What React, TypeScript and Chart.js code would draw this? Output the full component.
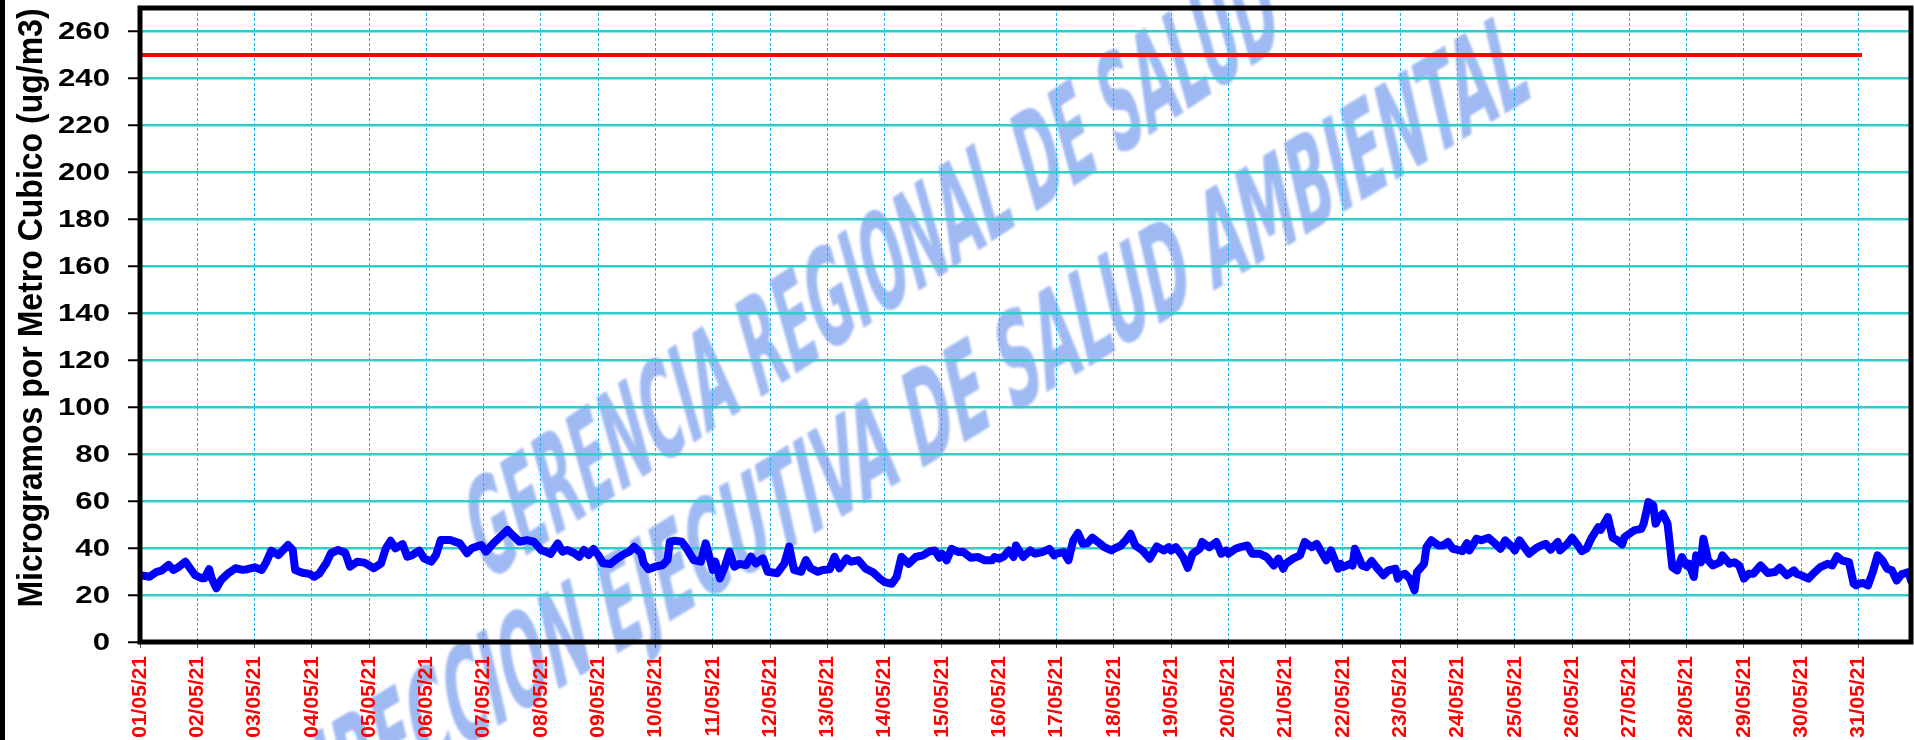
import { useEffect, useRef } from 'react';
import { Chart, registerables } from 'chart.js';

Chart.register(...registerables);

// Hours since 01/05/21 00:00 and PM10 readings (ug/m3)
const hours = [
  0, 4, 7, 9, 12, 14, 16, 19, 21, 23,
  26, 27, 29, 30, 32, 34, 37, 40, 43, 45,
  48, 51, 53, 55, 58, 62, 64, 65, 68, 71,
  73, 75, 78, 80, 83, 86, 88,
  91, 94, 98, 101, 103, 105, 107, 110, 112, 114, 117, 119,
  122, 124, 126, 130, 134, 137, 139, 143,
  145, 148, 151, 154, 156, 159, 162, 165,
  168, 170, 172, 175, 177, 179, 182, 184, 186, 188, 190,
  192, 194, 197, 200, 203, 205, 207, 210, 211, 213,
  216, 219, 221, 222, 224, 227, 229, 232, 235, 237,
  240, 241, 243, 245, 247, 249, 251, 254, 256, 258, 261,
  263, 267, 270, 272, 274, 277, 279, 281, 284, 286,
  289, 291, 293, 296, 298, 301, 304, 307, 310,
  312, 315, 317, 319, 322, 325, 328, 331, 333, 335,
  336, 338, 340, 343, 345, 348, 351, 354, 357, 358,
  360, 362, 364, 366, 367, 370, 373, 375, 378, 381, 383,
  384, 387, 389, 391, 393, 395, 397, 399, 402, 404, 407,
  408, 411, 413, 415, 417, 420, 423, 426, 429, 431,
  432, 434, 437, 439, 441, 444, 445, 448, 451, 453, 455,
  456, 459, 461, 464, 466, 469, 472, 475, 477, 479,
  480, 483, 486, 488, 491, 493, 495, 497, 499, 502, 503,
  504, 507, 508, 509, 512, 514, 516, 518, 521, 523, 526, 527,
  528, 530, 532, 534, 535, 538, 539, 541, 544, 546, 548, 550,
  552, 554, 556, 557, 560, 562, 565, 567, 570, 572, 575,
  576, 578, 580, 582, 585, 587, 589, 591, 594, 595, 598,
  600, 602, 604, 606, 608, 611, 612, 615, 617, 619, 621, 622,
  624, 626, 629, 630, 632, 634, 635, 636, 638, 640, 642, 644, 646,
  648, 649, 651, 652, 654, 655, 657, 659, 662, 663, 666, 668, 670,
  672, 674, 676, 679, 682, 685, 687, 690, 693, 694,
  696, 699, 701, 704, 707, 709, 711, 713, 716, 718, 719,
  720, 722, 724, 726, 728, 730, 732, 734, 736, 738, 741, 742,
];

const pm10 = [
  28.5, 27.8, 29.9, 30.4, 32.8, 30.7, 31.8, 34.2, 31.4, 28.5,
  27.1, 27.1, 31, 27.1, 22.9, 26.4, 29.3, 31.4, 30.7, 31,
  31.8, 30.7, 34.2, 38.9, 37, 41.3, 39.2, 30.7, 29.5, 29,
  27.8, 29, 33.5, 37.8, 39.2, 38, 32.1,
  34.2, 33.8, 31.4, 33.5, 39.9, 43.1, 39.9, 41.7, 36.3, 37, 38.9, 35.6,
  34.2, 37, 43.4, 43.4, 42, 37.8, 39.9, 41.3,
  38.5, 42, 44.9, 47.7, 45.6, 42.7, 43.4, 42.7,
  39.2, 38.5, 37.5, 42, 38.5, 39.2, 37.8, 36.3, 39.2, 37, 39.6,
  37, 33.5, 33.2, 35.6, 37.5, 38.5, 40.6, 37.8, 33.5, 31,
  32.1, 32.8, 34.9, 42.7, 43.1, 42.7, 39.9, 34.9, 34.2, 42,
  30.7, 34.2, 27.1, 32.1, 38.5, 32.1, 33.2, 32.8, 36.3, 33.5, 35.6,
  29.9, 29.3, 33.5, 40.6, 30.7, 29.9, 34.9, 31.4, 29.9, 30.7,
  31, 36.3, 31.4, 35.6, 34.2, 34.8, 31.2, 29.8, 27,
  25.5, 24.8, 27.7, 36.2, 33.3, 36.2, 36.9, 38.7, 39, 35.9,
  37.6, 34.8, 39.7, 38.3, 38.3, 35.9, 36.2, 34.8, 34.8, 36.2,
  35.5, 36.5, 39, 36.2, 41.1, 36.2, 39, 37.6, 38.3, 39.7, 36.9,
  37.6, 38.3, 34.8, 43.3, 46.4, 41.8, 42.1, 44.4, 42.1, 40.4, 39,
  39.7, 41.1, 43.3, 46.1, 41.1, 39, 35.5, 40.7, 39, 40.4,
  39, 40.4, 36.2, 31.6, 37.6, 39.7, 42.6, 40.4, 42.6, 37.6, 39,
  37.6, 39.7, 40.4, 41.1, 37.6, 37.6, 36.2, 32.6, 35.5, 31.2,
  33.3, 35.5, 36.9, 42.6, 40.4, 41.8, 38.3, 34.8, 39, 31.2, 33.3,
  31.9, 33.3, 32.6, 39.7, 32.6, 31.9, 34.5, 31.9, 28.4, 30.5, 31.2, 27,
  28.4, 29.1, 27, 22, 29.8, 33.3, 40.4, 43.3, 41.1, 41.1, 42.6, 39.7,
  39.3, 38.7, 42.1, 39, 44, 43.3, 44.4, 42.6, 39.7, 43.3, 40.4,
  39, 43.3, 40.4, 37.6, 40, 41.1, 41.8, 39.3, 42.6, 39, 41.8,
  44.4, 41.8, 38.7, 39.7, 44, 48.9, 47.8, 53.2, 44.4, 43.3, 41.6, 44.7,
  46.1, 47.5, 48.2, 50.4, 59.6, 58.2, 50.4, 52.5, 54.6, 50.4, 31.9, 30.5, 36.2,
  32.6, 33.3, 27.7, 36.9, 34, 44, 34.8, 32.6, 34, 36.9, 33.3, 34, 32.6,
  27, 29.1, 29.1, 32.6, 29.4, 29.8, 31.6, 28.4, 30.5, 29.1,
  28.4, 27, 29.1, 31.9, 33.3, 32.6, 36.5, 34.8, 34, 24.8, 24.1,
  24.8, 25.1, 24.1, 29.8, 36.9, 34.8, 31.2, 30.5, 26.2, 28.8, 29.8, 26.2,
];

// Limit line (250 ug/m3)
const limitHours = [0, 721.5];
const limitValues = [250, 250];

const yTickValues = [0, 20, 40, 60, 80, 100, 120, 140, 160, 180, 200, 220, 240, 260];

const dayLabels = [
  '01/05/21', '02/05/21', '03/05/21', '04/05/21', '05/05/21', '06/05/21', '07/05/21', '08/05/21',
  '09/05/21', '10/05/21', '11/05/21', '12/05/21', '13/05/21', '14/05/21', '15/05/21', '16/05/21',
  '17/05/21', '18/05/21', '19/05/21', '20/05/21', '21/05/21', '22/05/21', '23/05/21', '24/05/21',
  '25/05/21', '26/05/21', '27/05/21', '28/05/21', '29/05/21', '30/05/21', '31/05/21',
];

const yTitle = 'Microgramos por Metro Cubico (ug/m3)';
const watermarkTexts = ['GERENCIA REGIONAL DE SALUD', 'DIRECCION EJECUTIVA DE SALUD AMBIENTAL'];

const W = 1914;
const H = 740;

const watermarkPlugin = {
  id: 'bgWatermark',
  beforeDraw(chart: any) {
    const ctx = chart.ctx as CanvasRenderingContext2D;
    ctx.save();
    ctx.fillStyle = '#ffffff';
    ctx.fillRect(0, 0, W, H);
    const specs = [
      { text: watermarkTexts[0], cx: 872, cy: 268, angle: 34, len: 965, h: 90 },
      { text: watermarkTexts[1], cx: 900, cy: 430, angle: 31.3, len: 1455, h: 88 },
    ];
    const fs = 100;
    ctx.font = `bold ${fs}px 'Liberation Sans Narrow', 'DejaVu Sans Condensed', 'Liberation Sans', sans-serif`;
    ctx.fillStyle = 'rgba(105,145,236,0.64)';
    ctx.textAlign = 'center';
    ctx.textBaseline = 'alphabetic';
    try { (ctx as any).filter = 'blur(0.8px)'; } catch (e) { /* ignore */ }
    for (const s of specs) {
      const w = ctx.measureText(s.text).width;
      const cap = 0.716 * fs;
      ctx.save();
      ctx.translate(s.cx, s.cy);
      ctx.rotate((-s.angle * Math.PI) / 180);
      ctx.transform(1, 0, -0.33, 1, 0, 0);
      ctx.scale(s.len / w, s.h / cap);
      ctx.fillText(s.text, 0, cap / 2);
      ctx.restore();
    }
    ctx.restore();
  },
};

const framePlugin = {
  id: 'frameAndTitle',
  afterDraw(chart: any) {
    const ctx = chart.ctx as CanvasRenderingContext2D;
    const a = chart.chartArea;
    const yScale = chart.scales.y;
    ctx.save();
    ctx.strokeStyle = '#000000';
    ctx.lineWidth = 5;
    ctx.strokeRect(a.left, a.top, a.right - a.left, a.bottom - a.top);
    // outer left frame
    ctx.fillStyle = '#000000';
    ctx.fillRect(0, 0, 5, H);
    // y tick labels (wide bold, as in the original)
    ctx.font = "bold 24px 'Liberation Sans', Arial, sans-serif";
    ctx.textAlign = 'right';
    ctx.textBaseline = 'middle';
    for (const v of yTickValues) {
      const py = yScale.getPixelForValue(v);
      ctx.save();
      ctx.translate(a.left - 30, py + 1);
      ctx.scale(1.3, 1);
      ctx.fillText(String(v), 0, 0);
      ctx.restore();
    }
    // y title
    ctx.translate(42, 308);
    ctx.rotate(-Math.PI / 2);
    ctx.scale(1, 1.08);
    ctx.font = "bold 32px 'Liberation Sans', Arial, sans-serif";
    ctx.textAlign = 'center';
    ctx.textBaseline = 'alphabetic';
    ctx.fillText(yTitle, 0, 0);
    ctx.restore();
  },
};

export default function App() {
  const ref = useRef<HTMLCanvasElement | null>(null);

  useEffect(() => {
    if (!ref.current) return;
    const chart = new Chart(ref.current, {
      type: 'line',
      data: {
        datasets: [
          {
            label: 'PM10',
            data: hours.map((h, i) => ({ x: h, y: pm10[i] })),
            borderColor: '#0000ff',
            backgroundColor: '#0000ff',
            borderWidth: 8,
            pointRadius: 0,
            tension: 0,
            borderJoinStyle: 'round',
            borderCapStyle: 'round',
            fill: false,
          },
          {
            label: 'Limite',
            data: limitHours.map((h, i) => ({ x: h, y: limitValues[i] })),
            borderColor: '#ff0000',
            backgroundColor: '#ff0000',
            borderWidth: 4,
            pointRadius: 0,
            fill: false,
          },
        ],
      },
      options: {
        responsive: false,
        animation: false,
        devicePixelRatio: 1,
        layout: { padding: { top: 8, right: 3, left: 0, bottom: 0 } },
        plugins: {
          legend: { display: false },
          tooltip: { enabled: false },
          title: { display: false },
        },
        scales: {
          x: {
            type: 'linear',
            min: 0,
            max: 742,
            afterBuildTicks: (s: any) => {
              s.ticks = dayLabels.map((_, i) => ({ value: i * 24 }));
            },
            afterFit: (s: any) => {
              s.height = 98;
              s.paddingLeft = 0;
              s.paddingRight = 0;
            },
            ticks: {
              autoSkip: false,
              maxRotation: 90,
              minRotation: 90,
              color: '#ff0000',
              padding: 8,
              font: { family: "'Liberation Sans', Arial, sans-serif", size: 21, weight: 'bold' },
              callback: (v: any) => dayLabels[Math.round(Number(v) / 24)] ?? '',
            },
            grid: {
              color: '#1eb0ee',
              lineWidth: 1,
              drawTicks: true,
              tickLength: 6,
              tickColor: '#555555',
              tickWidth: 1,
            },
            border: { display: false, dash: [3, 2] },
          },
          y: {
            min: 0,
            max: 270,
            afterBuildTicks: (s: any) => {
              s.ticks = yTickValues.map((v) => ({ value: v }));
            },
            afterFit: (s: any) => {
              s.width = 140;
              s.paddingTop = 0;
              s.paddingBottom = 0;
            },
            ticks: { display: false },
            grid: {
              color: '#33cccc',
              lineWidth: 2.5,
              tickLength: 12,
              tickColor: '#000000',
              tickWidth: 2,
            },
            border: { display: false },
          },
        },
      } as any,
      plugins: [watermarkPlugin, framePlugin],
    });
    return () => chart.destroy();
  }, []);

  return (
    <div style={{ position: 'absolute', left: 0, top: 0, width: W, height: H }}>
      <canvas ref={ref} width={W} height={H} style={{ display: 'block' }} />
    </div>
  );
}
